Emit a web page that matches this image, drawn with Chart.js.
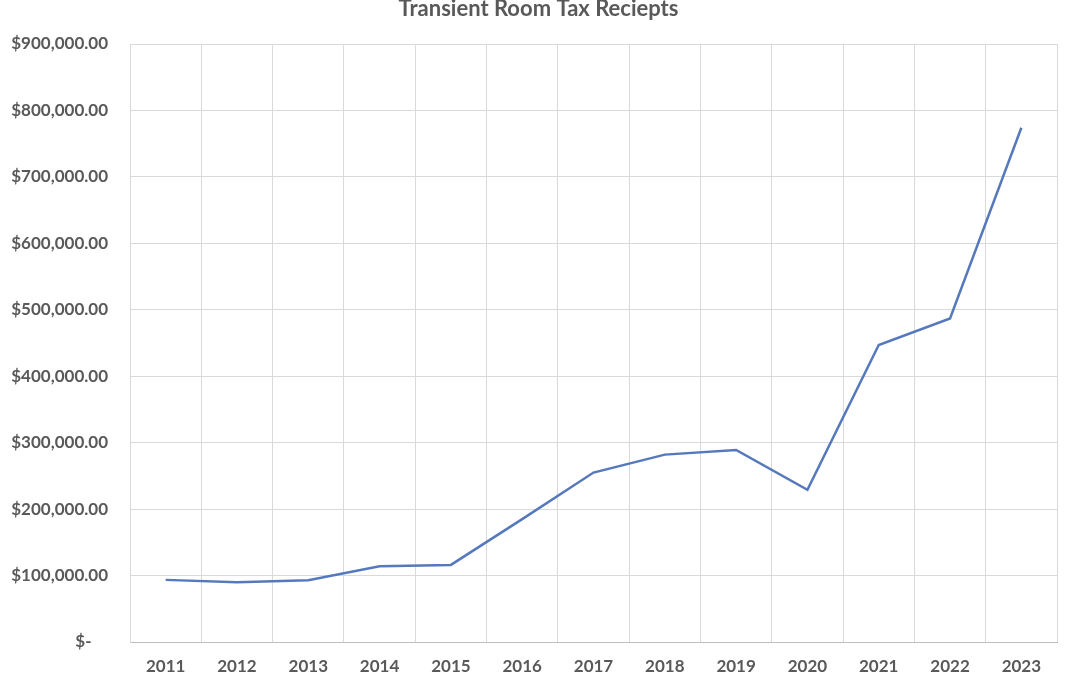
<!DOCTYPE html>
<html>
<head>
<meta charset="utf-8">
<script src="https://cdn.jsdelivr.net/npm/chart.js@4/dist/chart.umd.min.js"></script>
<style>
  html, body { margin: 0; padding: 0; background: #fff; }
  #wrap { width: 1077px; height: 675px; }
</style>
</head>
<body>
<div id="wrap"><canvas id="myChart"></canvas></div>
<script>
// datos
var years = ['2011','2012','2013','2014','2015','2016','2017','2018','2019','2020','2021','2022','2023'];
var receipts = [93500, 90000, 93000, 114000, 116000, 185000, 255000, 282000, 289000, 229000, 447000, 487000, 774000];
var yTicks = [0, 100000, 200000, 300000, 400000, 500000, 600000, 700000, 800000, 900000];
var chartTitle = 'Transient Room Tax Reciepts';

var gray = '#595959';

// titulo arriba, medio cortado como en la imagen
var titlePlugin = {
    id: 'topTitle',
    afterDraw: function(chart) {
        var c = chart.ctx;
        c.save();
        c.font = 'bold 22px Lato';
        c.fillStyle = gray;
        c.textAlign = 'center';
        c.textBaseline = 'alphabetic';
        c.fillText(chartTitle, chart.width / 2, 16);
        c.restore();
    }
};

var ctx = document.getElementById('myChart').getContext('2d');
var myChart = new Chart(ctx,
{
    type: 'line',
    data:
    {
        labels: years,
        datasets:
        [
            {
                data: receipts,
                label: chartTitle,
                borderColor: '#5579BC',
                borderWidth: 2.5,
                pointRadius: 0,
                tension: 0,
                fill: false
            }
        ]
    },
    options:
    {
        responsive: true,
        maintainAspectRatio: false,
        animation: false,
        layout: { padding: { top: 44, right: 20, left: 0, bottom: 0 } },
        plugins:
        {
            legend: { display: false },
            title: { display: false },
            tooltip: { enabled: false }
        },
        scales:
        {
            x:
            {
                offset: true,
                grid: { offset: true, color: '#d9d9d9', drawTicks: false },
                border: { color: '#bfbfbf' },
                ticks: { color: gray, font: { family: 'Lato', size: 17, weight: 'bold' }, padding: 14 },
                afterFit: function(s) { s.height = 33; }
            },
            y:
            {
                min: 0,
                max: 900000,
                afterBuildTicks: function(s) { s.ticks = yTicks.map(function(v) { return { value: v }; }); },
                grid: { color: '#d9d9d9', drawTicks: false },
                border: { color: '#d9d9d9' },
                ticks:
                {
                    color: gray,
                    font: { family: 'Lato', size: 17, weight: 'bold' },
                    padding: 22,
                    callback: function(v) {
                        if (v === 0) return '$-    ';
                        return '$' + v.toLocaleString('en-US', { minimumFractionDigits: 2, maximumFractionDigits: 2 });
                    }
                },
                afterFit: function(s) { s.width = 130; }
            }
        }
    },
    plugins: [titlePlugin]
});
</script>
</body>
</html>
